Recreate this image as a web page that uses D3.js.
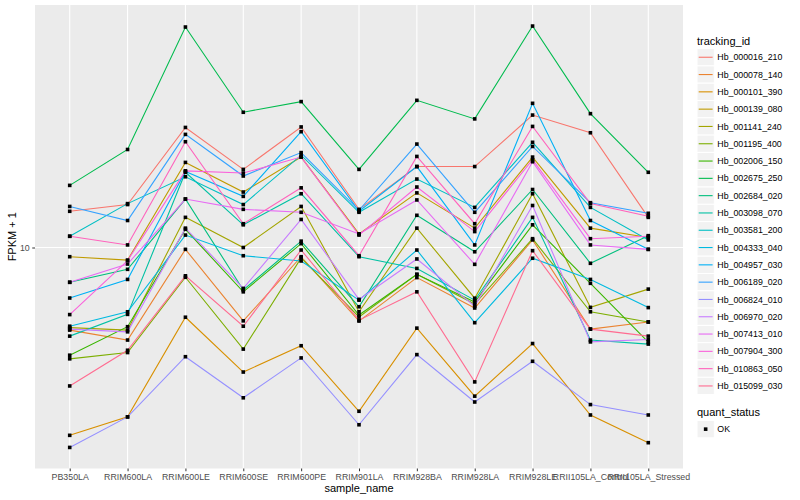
<!DOCTYPE html>
<html>
<head>
<meta charset="utf-8">
<script src="https://cdn.jsdelivr.net/npm/d3@7"></script>
<style>
  html, body { margin: 0; padding: 0; background: #ffffff; }
  svg { display: block; font-family: "Liberation Sans", Arial, Helvetica, sans-serif; }
</style>
</head>
<body>
<svg id="chart" width="800" height="500"></svg>
<script>
// ---------------- data ----------------
const samples = ["PB350LA", "RRIM600LA", "RRIM600LE", "RRIM600SE", "RRIM600PE", "RRIM901LA",
  "RRIM928BA", "RRIM928LA", "RRIM928LE", "RRII105LA_Control", "RRII105LA_Stressed"];

const trackingIds = ["Hb_000016_210", "Hb_000078_140", "Hb_000101_390", "Hb_000139_080",
  "Hb_001141_240", "Hb_001195_400", "Hb_002006_150", "Hb_002675_250", "Hb_002684_020",
  "Hb_003098_070", "Hb_003581_200", "Hb_004333_040", "Hb_004957_030", "Hb_006189_020",
  "Hb_006824_010", "Hb_006970_020", "Hb_007413_010", "Hb_007904_300", "Hb_010863_050",
  "Hb_015099_030"];

// FPKM + 1 per sample (same order as samples)
const hb000016_210 = [13.2, 13.9, 25.1, 18.2, 25.2, 13.4, 18.6, 18.6, 27.6, 24.1, 12.6];
const hb000078_140 = [5.31, 4.92, 9.86, 5.70, 9.32, 5.69, 7.94, 6.29, 10.6, 5.35, 5.65];
const hb000101_390 = [2.37, 2.73, 5.86, 3.85, 4.71, 2.85, 5.39, 3.20, 4.79, 2.77, 2.24];
const hb000139_080 = [9.32, 9.08, 19.2, 15.3, 20.0, 11.1, 15.2, 11.6, 20.0, 11.6, 10.8];
const hb001141_240 = [5.41, 5.31, 12.6, 10.0, 13.7, 6.11, 11.6, 6.78, 15.1, 6.32, 7.27];
const hb001195_400 = [4.26, 4.47, 7.96, 4.59, 9.23, 5.87, 8.14, 6.48, 10.7, 6.11, 5.65];
const hb002006_150 = [4.38, 5.45, 11.5, 7.12, 10.3, 5.96, 8.14, 6.58, 11.9, 7.60, 4.84];
const hb002675_250 = [16.1, 21.2, 54.2, 28.2, 30.6, 18.2, 30.9, 26.8, 54.6, 27.9, 17.8];
const hb002684_020 = [7.66, 8.46, 14.5, 7.22, 10.5, 6.35, 12.8, 9.68, 15.6, 8.86, 10.95];
const hb003098_070 = [5.07, 5.99, 17.8, 11.9, 15.1, 9.32, 8.52, 6.68, 12.6, 4.92, 4.77];
const hb003581_200 = [10.9, 14.0, 17.2, 13.9, 20.3, 13.1, 16.9, 13.6, 22.4, 13.6, 10.6];
const hb004333_040 = [5.47, 6.11, 11.0, 9.39, 9.02, 6.68, 9.81, 5.62, 9.21, 7.83, 6.31];
const hb004957_030 = [6.79, 7.83, 17.9, 14.8, 24.3, 13.2, 18.6, 10.2, 30.2, 12.3, 9.86];
const hb006189_020 = [13.7, 12.3, 23.8, 17.3, 20.7, 13.3, 22.1, 13.1, 21.7, 14.1, 13.0];
const hb006824_010 = [2.16, 2.73, 4.33, 3.16, 4.29, 2.57, 4.40, 3.06, 4.18, 3.00, 2.77];
const hb006970_020 = [5.35, 5.24, 11.6, 7.31, 12.4, 6.72, 9.16, 6.38, 13.8, 4.85, 4.94];
const hb007413_010 = [7.66, 8.81, 14.5, 13.4, 13.1, 11.1, 14.4, 8.79, 19.3, 10.2, 9.86];
const hb007904_300 = [5.98, 9.05, 18.0, 17.7, 20.0, 11.0, 15.9, 11.3, 19.6, 10.7, 10.9];
const hb010863_050 = [10.9, 10.2, 22.5, 12.0, 15.8, 9.39, 20.1, 12.0, 25.3, 14.0, 12.7];
const hb015099_030 = [3.46, 4.55, 8.05, 5.47, 9.81, 5.73, 7.12, 3.57, 9.76, 5.35, 5.07];

const seriesValues = [hb000016_210, hb000078_140, hb000101_390, hb000139_080, hb001141_240,
  hb001195_400, hb002006_150, hb002675_250, hb002684_020, hb003098_070, hb003581_200,
  hb004333_040, hb004957_030, hb006189_020, hb006824_010, hb006970_020, hb007413_010,
  hb007904_300, hb010863_050, hb015099_030];

const yTicks = [10];
const quantStatus = ["OK"];

// ggplot2 default hue palette for 20 levels
const palette = ["#F8766D", "#EA8331", "#D89000", "#C09B00", "#A3A500", "#7CAE00", "#39B600",
  "#00BB4E", "#00BF7D", "#00C1A3", "#00BFC4", "#00BAE0", "#00B0F6", "#35A2FF", "#9590FF",
  "#C77CFF", "#E76BF3", "#FA62DB", "#FF62BC", "#FF6C91"];

// ---------------- layout ----------------
const svg = d3.select("#chart");
const panel = { left: 35, right: 683, top: 5, bottom: 468.5 };

const series = trackingIds.map((id, i) => ({
  id, color: palette[i],
  values: samples.map((s, j) => ({ sample: s, value: seriesValues[i][j] }))
}));

const allVals = seriesValues.flat();
const lmin = Math.log10(d3.min(allVals)), lmax = Math.log10(d3.max(allVals));
const pad = 0.05 * (lmax - lmin);

const x = d3.scalePoint().domain(samples)
  .range([panel.left, panel.right]).padding(0.6);
const y = d3.scaleLog().domain([Math.pow(10, lmin - pad), Math.pow(10, lmax + pad)])
  .range([panel.bottom, panel.top]);

// panel background
svg.append("rect")
  .attr("x", panel.left).attr("y", panel.top)
  .attr("width", panel.right - panel.left).attr("height", panel.bottom - panel.top)
  .attr("fill", "#EBEBEB");

// grid
const grid = svg.append("g");
grid.selectAll("line.v").data(samples).enter().append("line")
  .attr("x1", d => x(d)).attr("x2", d => x(d))
  .attr("y1", panel.top).attr("y2", panel.bottom)
  .attr("stroke", "#ffffff").attr("stroke-width", 1.1);
grid.selectAll("line.h").data(yTicks).enter().append("line")
  .attr("x1", panel.left).attr("x2", panel.right)
  .attr("y1", d => y(d)).attr("y2", d => y(d))
  .attr("stroke", "#ffffff").attr("stroke-width", 1.1);

// axes
const xAxis = d3.axisBottom(x).tickSize(2.75).tickPadding(3);
const gx = svg.append("g").attr("transform", `translate(0,${panel.bottom})`).call(xAxis);
gx.select(".domain").remove();
gx.selectAll(".tick line").attr("stroke", "#333333").attr("stroke-width", 1);
gx.selectAll(".tick text").attr("fill", "#4D4D4D").attr("font-size", "8.8px")
  .attr("font-family", "'Liberation Sans', Arial, Helvetica, sans-serif");

const yAxis = d3.axisLeft(y).tickValues(yTicks).tickFormat(d3.format("d")).tickSize(2.75).tickPadding(2.5);
const gy = svg.append("g").attr("transform", `translate(${panel.left},0)`).call(yAxis);
gy.select(".domain").remove();
gy.selectAll(".tick line").attr("stroke", "#333333").attr("stroke-width", 1);
gy.selectAll(".tick text").attr("fill", "#4D4D4D").attr("font-size", "8.8px")
  .attr("font-family", "'Liberation Sans', Arial, Helvetica, sans-serif");

// axis titles
svg.append("text")
  .attr("x", (panel.left + panel.right) / 2).attr("y", 492)
  .attr("text-anchor", "middle").attr("font-size", "11px").attr("fill", "#000")
  .text("sample_name");
svg.append("text")
  .attr("transform", `translate(16,${(panel.top + panel.bottom) / 2}) rotate(-90)`)
  .attr("text-anchor", "middle").attr("font-size", "11px").attr("fill", "#000")
  .text("FPKM + 1");

// lines
const line = d3.line().x(d => x(d.sample)).y(d => y(d.value));
svg.append("g").selectAll("path").data(series).enter().append("path")
  .attr("d", d => line(d.values))
  .attr("fill", "none")
  .attr("stroke", d => d.color)
  .attr("stroke-width", 1.1);

// points
const pts = series.flatMap(s => s.values);
svg.append("g").selectAll("rect").data(pts).enter().append("rect")
  .attr("x", d => x(d.sample) - 1.8).attr("y", d => y(d.value) - 1.8)
  .attr("width", 3.6).attr("height", 3.6)
  .attr("fill", "#000");

// legend: tracking_id
const lg = svg.append("g");
const legX = 697, keyW = 17.3, keyTop = 48.6;
lg.append("text").attr("x", legX).attr("y", 44.5).attr("font-size", "11px").attr("fill", "#000")
  .text("tracking_id");
const items = lg.selectAll("g.item").data(series).enter().append("g")
  .attr("transform", (d, i) => `translate(${legX},${keyTop + i * keyW})`);
items.append("rect").attr("width", keyW).attr("height", keyW)
  .attr("fill", "#F2F2F2").attr("stroke", "#ffffff").attr("stroke-width", 1);
items.append("line").attr("x1", 1.7).attr("x2", keyW - 1.7)
  .attr("y1", keyW / 2).attr("y2", keyW / 2)
  .attr("stroke", d => d.color).attr("stroke-width", 1.1);
items.append("text").attr("x", keyW + 3).attr("y", keyW / 2 + 3.1)
  .attr("font-size", "8.8px").attr("fill", "#000").text(d => d.id);

// legend: quant_status
const qTop = 420.5;
lg.append("text").attr("x", legX).attr("y", 416).attr("font-size", "11px").attr("fill", "#000")
  .text("quant_status");
const qi = lg.selectAll("g.q").data(quantStatus).enter().append("g")
  .attr("transform", (d, i) => `translate(${legX},${qTop + i * keyW})`);
qi.append("rect").attr("width", keyW).attr("height", keyW)
  .attr("fill", "#F2F2F2").attr("stroke", "#ffffff").attr("stroke-width", 1);
qi.append("rect").attr("x", keyW / 2 - 1.8).attr("y", keyW / 2 - 1.8)
  .attr("width", 3.6).attr("height", 3.6).attr("fill", "#000");
qi.append("text").attr("x", keyW + 3).attr("y", keyW / 2 + 3.1)
  .attr("font-size", "8.8px").attr("fill", "#000").text(d => d);
</script>
</body>
</html>
